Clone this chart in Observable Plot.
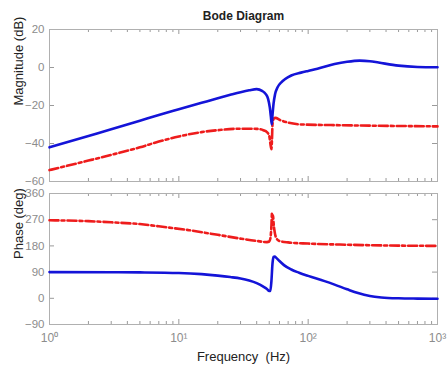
<!DOCTYPE html>
<html><head><meta charset="utf-8">
<script src="https://cdn.jsdelivr.net/npm/d3@7"></script>
<script src="https://cdn.jsdelivr.net/npm/@observablehq/plot@0.6"></script>
<style>
body{margin:0;background:#fff;font-family:"Liberation Sans",Arial,sans-serif}
#chart{width:447px;height:367px}
#chart svg{display:block}
</style></head>
<body><div id="chart"></div>
<script>
// ---- data ----
const magBlueF = [1,2,3,5,7,10,15,20,25,30,35,40,44,47,49,50.5,51.5,52.3,53,54,55.5,58,62,66,74,88,100,118,160,200,250,300,350,500,700,1000];
const magBlueV = [-42,-36,-32.5,-28,-25,-22,-18.6,-16.2,-14.4,-13,-12,-11.4,-12.3,-14,-16.5,-21,-26,-30,-25,-19,-14,-10.4,-7.8,-6.2,-4.2,-2.7,-1.8,-0.7,1.8,3,3.6,3.3,2.6,1,0.3,0.1];
const magRedF = [1,2,3,5,7,10,15,20,30,40,45,48,50,51,52,52.5,53,54,56,60,70,90,150,300,1000];
const magRedV = [-54,-49,-46,-42,-39,-36.3,-34,-33,-32.2,-32.3,-33,-34,-36,-40,-43,-38,-30,-27,-26.5,-27.5,-29,-30,-30.3,-30.6,-31];
const phBlueF = [1,3,5,10,15,20,25,30,35,40,45,48,50,51,52,53,54,55,57,60,65,74,85,100,134,160,200,243,300,368,500,700,1000];
const phBlueV = [90,89.5,89,87,83,78,73,68,61,52,40,32,25,25,60,120,142,143,138,128,114,99,88,77,59,47,31,18,8,3,0,-1,-1.5];
const phRedF = [1,2,3,5,8,12,20,30,40,48,50,51,52,52.5,53,53.5,54,55,57,60,70,100,200,500,1000];
const phRedV = [268,265,261,255,244,234,218,205,197,193,195,205,250,292,275,285,260,230,205,197,192,188,184,181,180];
const xTicks = [1,10,100,1000];
const xTickLabels = ["10\u2070","10\u00b9","10\u00b2","10\u00b3"];
const magTicks = [-60,-40,-20,0,20];
const phTicks = [-90,0,90,180,270,360];
const title = "Bode Diagram";
const magLabel = "Magnitude (dB)";
const phLabel = "Phase (deg)";
const freqLabel = "Frequency  (Hz)";

// ---- helpers ----
const zip = (F, V) => F.map((f, i) => ({f, v: V[i]}));
const minor = [];
for (let k = 0; k < 3; k++) for (let m = 2; m <= 9; m++) minor.push(m * 10 ** k);
const BLUE = "#1414d8", RED = "#ee1c1c", GRAY = "#9a9a9a", TXT = "#8c8c8c";
const W = 447, ML = 49, MR = 10;

function frameTicks(innerH, innerW, yTicks) {
  return [
    Plot.tickX(minor, {x: d => d, insetTop: innerH - 3, stroke: GRAY}),
    Plot.tickX(minor, {x: d => d, insetBottom: innerH - 3, stroke: GRAY}),
    Plot.tickX(xTicks, {x: d => d, insetTop: innerH - 5, stroke: GRAY}),
    Plot.tickX(xTicks, {x: d => d, insetBottom: innerH - 5, stroke: GRAY}),
    Plot.tickY(yTicks, {y: d => d, insetRight: innerW - 5, stroke: GRAY}),
    Plot.tickY(yTicks, {y: d => d, insetLeft: innerW - 5, stroke: GRAY}),
    Plot.frame({stroke: "#b0b0b0"})
  ];
}
const style = {fontFamily: "'Liberation Sans', Arial, sans-serif", fontSize: "11px", color: TXT, background: "#fff", overflow: "visible"};

// ---- magnitude panel ----
const H1 = 186, MT1 = 29, MB1 = 5;
const p1 = Plot.plot({
  width: W, height: H1, marginLeft: ML, marginRight: MR, marginTop: MT1, marginBottom: MB1,
  style,
  x: {type: "log", domain: [1, 1000], axis: null},
  y: {domain: [-60, 20], axis: null},
  marks: [
    ...frameTicks(H1 - MT1 - MB1, W - ML - MR, magTicks),
    Plot.axisY({ticks: magTicks, tickSize: 0, tickPadding: 5, label: null, fill: TXT, fontSize: 11.5}),
    Plot.line(zip(magRedF, magRedV), {x: "f", y: "v", stroke: RED, strokeWidth: 2.6, strokeDasharray: "9,3,3,3", curve: "monotone-x"}),
    Plot.line(zip(magBlueF, magBlueV), {x: "f", y: "v", stroke: BLUE, strokeWidth: 2.6, curve: "monotone-x"}),
    Plot.text([magLabel], {frameAnchor: "left", dx: -31, rotate: -90, fill: "#222", fontSize: 13}),
    Plot.text([title], {frameAnchor: "top", dy: -18, fill: "#222", fontSize: 12, fontWeight: "bold"})
  ]
});

// ---- phase panel ----
const H2 = 181, MT2 = 7, MB2 = 43;
const p2 = Plot.plot({
  width: W, height: H2, marginLeft: ML, marginRight: MR, marginTop: MT2, marginBottom: MB2,
  style,
  x: {type: "log", domain: [1, 1000], axis: null},
  y: {domain: [-90, 360], axis: null},
  marks: [
    ...frameTicks(H2 - MT2 - MB2, W - ML - MR, phTicks),
    Plot.axisY({ticks: phTicks, tickSize: 0, tickPadding: 5, label: null, fill: TXT, fontSize: 11.5}),
    Plot.axisX({ticks: xTicks, tickSize: 0, tickPadding: 9, label: null, fill: TXT, fontSize: 12,
      tickFormat: d => xTickLabels[xTicks.indexOf(d)]}),
    Plot.line(zip(phRedF, phRedV), {x: "f", y: "v", stroke: RED, strokeWidth: 2.6, strokeDasharray: "9,3,3,3", curve: "monotone-x"}),
    Plot.line(zip(phBlueF, phBlueV), {x: "f", y: "v", stroke: BLUE, strokeWidth: 2.6, curve: "monotone-x"}),
    Plot.text([phLabel], {frameAnchor: "left", dx: -31, rotate: -90, fill: "#222", fontSize: 13}),
    Plot.text([freqLabel], {frameAnchor: "bottom", dy: 36, fill: "#222", fontSize: 13})
  ]
});

const c = document.getElementById("chart");
c.append(p1, p2);
</script>
</body></html>
